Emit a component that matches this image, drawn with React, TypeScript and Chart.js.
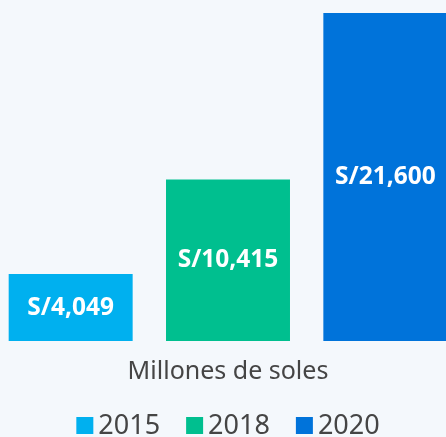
import React, { useEffect, useRef } from "react";
import { Chart, registerables } from "chart.js";

Chart.register(...registerables);

const categories = ["2015", "2018", "2020"];
const values = [4049, 10415, 21600];
const valueLabels = ["S/4,049", "S/10,415", "S/21,600"];
const barColors = ["#00b0ef", "#00bf8f", "#0073da"];
const axisTitle = "Millones de soles";
const axisMin = -450;
const axisMax = 21600;

const FONT = "'Noto Sans', sans-serif";
const BG = "#f4f8fc";
const TEXT = "#454545";

const barLabelPlugin = {
  id: "barLabels",
  afterDatasetsDraw(chart: any) {
    const ctx = chart.ctx;
    const meta = chart.getDatasetMeta(0);
    ctx.save();
    ctx.fillStyle = "#ffffff";
    ctx.font = `bold 24.5px ${FONT}`;
    ctx.textAlign = "center";
    ctx.textBaseline = "middle";
    meta.data.forEach((bar: any, i: number) => {
      const cy = (bar.y + bar.base) / 2;
      ctx.fillText(valueLabels[i], bar.x, cy);
    });
    ctx.restore();
  },
};

const legendPlugin = {
  id: "customLegend",
  afterDraw(chart: any) {
    const ctx = chart.ctx;
    const box = 17;
    const gapText = 5;
    const gapItem = 26;
    ctx.save();
    ctx.font = `27px ${FONT}`;
    ctx.textBaseline = "middle";
    ctx.textAlign = "left";
    const widths = categories.map((c) => box + gapText + ctx.measureText(c).width);
    const total = widths.reduce((a, b) => a + b, 0) + gapItem * (categories.length - 1);
    let x = chart.width / 2 - total / 2;
    const cy = 425.5;
    categories.forEach((c, i) => {
      ctx.fillStyle = barColors[i];
      ctx.fillRect(x, cy - box / 2, box, box);
      ctx.fillStyle = TEXT;
      ctx.fillText(c, x + box + gapText, cy + 1);
      x += widths[i] + gapItem;
    });
    ctx.restore();
  },
};

export default function App() {
  const ref = useRef<HTMLCanvasElement>(null);

  useEffect(() => {
    if (!ref.current) return;
    const chart = new Chart(ref.current, {
      type: "bar",
      data: {
        labels: categories,
        datasets: [
          {
            data: values,
            base: axisMin,
            backgroundColor: barColors,
            borderWidth: 0,
            barPercentage: 0.788,
            categoryPercentage: 1,
          },
        ],
      },
      options: {
        responsive: false,
        animation: false,
        layout: { padding: { top: 13, bottom: 50, left: 0, right: 0 } },
        plugins: {
          legend: { display: false },
          tooltip: { enabled: false },
        },
        scales: {
          x: {
            grid: { display: false },
            border: { display: false },
            ticks: { display: false },
            title: {
              display: true,
              text: axisTitle,
              color: TEXT,
              font: { family: FONT, size: 25 },
              padding: { top: 8, bottom: 0 },
            },
          },
          y: {
            display: false,
            min: axisMin,
            max: axisMax,
          },
        },
      },
      plugins: [barLabelPlugin, legendPlugin],
    });
    return () => chart.destroy();
  }, []);

  return (
    <div
      style={{
        position: "absolute",
        left: 0,
        top: 0,
        width: 446,
        height: 437,
        overflow: "hidden",
        background: BG,
      }}
    >
      <canvas
        ref={ref}
        width={472}
        height={437}
        style={{ position: "absolute", left: -8, top: 0, width: 472, height: 437 }}
      />
    </div>
  );
}
